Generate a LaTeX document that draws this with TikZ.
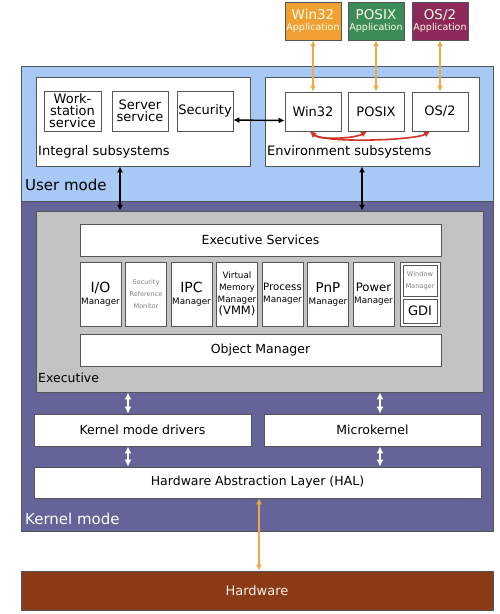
\documentclass[tikz,border=0pt]{standalone}
\usepackage{fontspec}
\setmainfont{DejaVu Sans}
\usetikzlibrary{positioning, calc, arrows.meta}
\tikzset{>=latex}
\definecolor{userblue}{RGB}{168,200,245}
\definecolor{kernelblue}{RGB}{100,100,152}
\definecolor{execgray}{RGB}{195,195,195}
\definecolor{hwbrown}{RGB}{139,58,23}
\definecolor{apporange}{RGB}{240,160,50}
\definecolor{appgreen}{RGB}{60,140,90}
\definecolor{apppurple}{RGB}{140,40,90}
\definecolor{myorange}{RGB}{235,170,70}
\definecolor{myred}{RGB}{210,50,40}
\definecolor{myborder}{RGB}{85,85,85}
\newcommand{\fsz}[2]{\fontsize{#1}{#2}\selectfont}
\tikzset{ % box styles
  region/.style={draw=myborder,line width=0.8pt,inner sep=0},
  box/.style={draw=myborder,fill=white,line width=0.8pt,inner sep=0,align=center},
  app/.style={box,fill=#1,text=white!90!yellow,minimum width=56pt,minimum height=38pt},
  subbox/.style={box,minimum width=56pt,minimum height=40pt,font=\fsz{13}{12}},
  mgr/.style={box,minimum width=41pt,minimum height=64pt},
  wide/.style={box,minimum height=32pt,font=\fsz{12.5}{13}},
  label text/.style={anchor=base west,inner sep=0,font=\fsz{#1}{#1}},
  tip/.style={{Latex[length=#1,width=#1]}-{Latex[length=#1,width=#1]}},
  black arrow/.style={tip=6pt,black,line width=1.4pt},
  orange arrow/.style={tip=6pt,myorange,line width=1.6pt},
  red arrow/.style={tip=6pt,myred,line width=1.6pt},
  white arrow/.style={tip=7pt,white,line width=1.6pt}
}

\begin{document}
\begin{tikzpicture}[x=1pt,y=-1pt]
\useasboundingbox (0,0) rectangle (500,614);

% modes
\node[region,fill=userblue,minimum width=472pt,minimum height=135pt]   (user)   at (257,133.5) {};
\node[region,fill=kernelblue,minimum width=472pt,minimum height=330pt] (kernel) at (257,366)   {};
\node[label text=15] (userlabel)   at (25,190) {User mode};
\node[label text=15,text=white] (kernellabel) at (25,524) {Kernel mode};

% applications
\foreach \n/\c/\x/\t in {winapp/apporange/313/Win32, posixapp/appgreen/376/POSIX, osapp/apppurple/440/{OS/2}}
  \node[app=\c] (\n) at (\x,21) {\fsz{13.5}{13}\t\\[-1pt]\fsz{9.5}{9}Application};

% user mode subsystems
\node[box,minimum width=214pt,minimum height=89pt] (integral)    at (143,121.5) {};
\node[box,minimum width=214pt,minimum height=89pt] (environment) at (372,121.5) {};
\node[label text=13] (integrallabel)    at (38,155)  {Integral subsystems};
\node[label text=13] (environmentlabel) at (267,155) {Environment subsystems};

\node[subbox,minimum width=57pt] (workstation) at (72.5,111) {Work-\\station\\service};
\node[subbox] (server)   at (140,111) {Server\\service};
\node[subbox] (security) at (205,111) {Security};

\foreach \n/\x/\t in {win32/313/Win32, posix/376/POSIX, os2/440/{OS/2}}
  \node[subbox,minimum height=39pt] (\n) at (\x,111.5) {\t};

% executive
\node[region,fill=execgray,minimum width=447pt,minimum height=181pt] (executive) at (259.5,301.5) {};
\node[label text=12.5] (executivelabel) at (38,382) {Executive};
\node[wide,minimum width=361pt] (services) at (260.5,240) {Executive Services};
\node[wide,minimum width=361pt] (objmgr)   at (260.5,350) {Object Manager};

\foreach \n/\t [count=\i from 0] in {
  io/{\fsz{14}{14}I/O\\\fsz{8.8}{10}Manager},
  srm/{\fsz{6.5}{8.5}\textcolor{gray}{Security}\\\fsz{6.5}{8.5}\textcolor{gray}{Reference}\\\fsz{6.5}{8.5}\textcolor{gray}{Monitor}},
  ipc/{\fsz{14}{14}IPC\\\fsz{8.8}{10}Manager},
  vmm/{\fsz{8.8}{9.3}Virtual\\\fsz{8.8}{9.3}Memory\\\fsz{8.8}{9.3}Manager\\\fsz{11.5}{9.5}(VMM)},
  process/{\fsz{10.2}{10}Process\\\fsz{8.8}{10}Manager},
  pnp/{\fsz{13.5}{14}PnP\\\fsz{8.8}{10}Manager},
  power/{\fsz{11.7}{12}Power\\\fsz{8.8}{10}Manager}}
  \node[mgr] (\n) at ({100.5+45.5*\i},294) {\t};

\node[mgr,minimum width=40pt] (wingdi) at (420,294) {};
\node[box,minimum width=34pt,minimum height=31pt] (winmgr) at (420,280.5)
  {\fsz{6.6}{8}\textcolor{gray}{Window}\\\fsz{6.6}{8}\textcolor{gray}{Manager}};
\node[box,minimum width=34pt,minimum height=24pt,font=\fsz{13}{13}] (gdi) at (420,311) {GDI};

% kernel
\node[wide,minimum width=217pt] (drivers)     at (142.5,430) {Kernel mode drivers};
\node[wide,minimum width=217pt] (microkernel) at (372.5,430) {Microkernel};
\node[wide,minimum width=447pt,minimum height=31pt] (hal) at (257.5,482.5) {Hardware Abstraction Layer (HAL)};

% hardware
\node[region,fill=hwbrown,text=white!90!orange,minimum width=472pt,minimum height=39pt,font=\fsz{13}{13}]
  (hardware) at (257,590.5) {Hardware};

% connections
\foreach \a/\b in {winapp/win32, posixapp/posix, osapp/os2}
  \draw[orange arrow] (\a) -- (\b);
\draw[black arrow] ([yshift=-9pt]security.east) -- ([yshift=-9pt]win32.west);
\draw[red arrow] ([xshift=-3pt]win32.south) .. controls +(10,9) and +(-12,7) .. ([xshift=-9pt]posix.south);
\draw[red arrow] ([xshift=-3pt]win32.south) .. controls +(15,12) and +(-15,9) .. ([xshift=-10pt]os2.south);
\draw[black arrow] ([xshift=-23pt]integral.south)    -- ([xshift=-23pt]integral.south |- executive.north);
\draw[black arrow] ([xshift=-10pt]environment.south) -- ([xshift=-10pt]environment.south |- executive.north);
\foreach \n/\s in {drivers/-14.5, microkernel/7.5}
{
  \draw[white arrow] ([xshift=\s pt]\n.north) -- ([xshift=\s pt]\n.north |- executive.south);
  \draw[white arrow] ([xshift=\s pt]\n.south) -- ([xshift=\s pt]\n.south |- hal.north);
}
\draw[orange arrow] ([xshift=1.5pt]hal.south) -- ([xshift=1.5pt]hal.south |- hardware.north);
\end{tikzpicture}
\end{document}
